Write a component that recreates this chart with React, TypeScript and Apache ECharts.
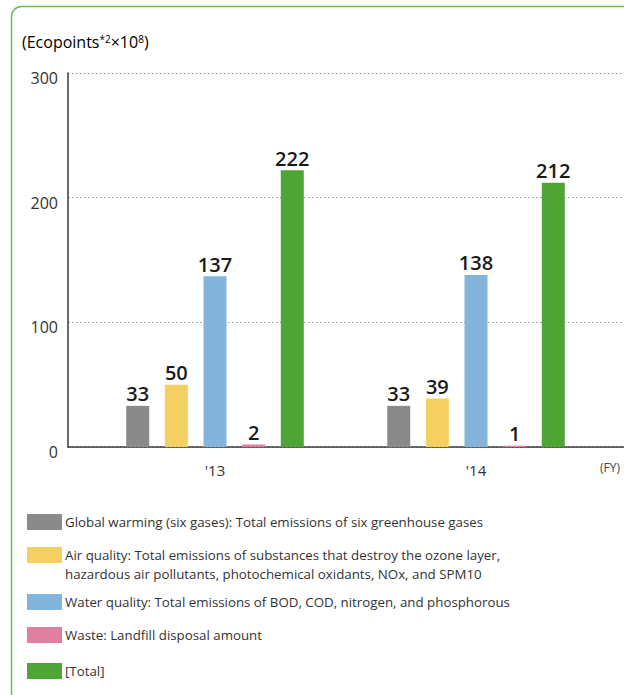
import React, { useEffect, useRef } from "react";
import * as echarts from "echarts";

const categories = ["'13", "'14"];
const seriesNames = ["Global warming", "Air quality", "Water quality", "Waste", "Total"];
const globalWarming = [33, 33];
const airQuality = [50, 39];
const waterQuality = [137, 138];
const waste = [2, 1];
const total = [222, 212];
const yTicks = [0, 100, 200, 300];
const legendLabels = [
  "Global warming (six gases): Total emissions of six greenhouse gases",
  "Air quality: Total emissions of substances that destroy the ozone layer,\nhazardous air pollutants, photochemical oxidants, NOx, and SPM10",
  "Water quality: Total emissions of BOD, COD, nitrogen, and phosphorous",
  "Waste: Landfill disposal amount",
  "[Total]",
];
const colors = ["#8a8a8a", "#f3d060", "#82b4dc", "#e07f9f", "#4ea535"];

const FONT = "'Open Sans', 'Noto Sans', sans-serif";

export default function App() {
  const ref = useRef<HTMLDivElement>(null);
  useEffect(() => {
    if (!ref.current) return;
    const chart = echarts.init(ref.current, undefined, { renderer: "svg" });
    const values = [globalWarming, airQuality, waterQuality, waste, total];
    const legendTops = [514, 547, 594, 627, 663];
    const legendGraphics: any[] = [];
    legendLabels.forEach((lab, i) => {
      legendGraphics.push({
        type: "rect",
        left: 27,
        top: legendTops[i],
        shape: { width: 35, height: 16 },
        style: { fill: colors[i] },
      });
      legendGraphics.push({
        type: "text",
        left: 65,
        top: legendTops[i] - 2,
        style: {
          text: lab,
          fill: "#333",
          font: `13.3px ${FONT}`,
          lineHeight: 19,
          textVerticalAlign: "top",
        },
      });
    });
    chart.setOption({
      animation: false,
      textStyle: { fontFamily: FONT },
      grid: [
        { left: 68, top: 73, width: 556, height: 374 },
        { left: 84.5, top: 73, width: 522, height: 374 },
      ],
      xAxis: [
        {
          gridIndex: 0,
          type: "value",
          min: 0,
          max: 1,
          axisLine: { show: true, lineStyle: { color: "#3a3a3a", width: 1.5 } },
          axisTick: { show: false },
          axisLabel: { show: false },
          splitLine: { show: false },
        },
        {
          gridIndex: 1,
          type: "category",
          data: categories,
          axisLine: { show: false },
          axisTick: { show: false },
          axisLabel: { color: "#333", fontSize: 15, margin: 15, fontFamily: FONT },
        },
      ],
      yAxis: [
        {
          gridIndex: 0,
          type: "value",
          min: yTicks[0],
          max: yTicks[yTicks.length - 1],
          interval: yTicks[1] - yTicks[0],
          axisLine: { show: true, lineStyle: { color: "#3a3a3a", width: 1.5 } },
          axisTick: { show: false },
          axisLabel: {
            color: "#333",
            fontSize: 16,
            margin: 10,
            verticalAlign: "top",
            lineHeight: 10,
            fontFamily: FONT,
          },
          splitLine: { show: true, lineStyle: { color: "#999", type: [1.5, 2.5], width: 1 } },
        },
        {
          gridIndex: 1,
          type: "value",
          min: yTicks[0],
          max: yTicks[yTicks.length - 1],
          show: false,
        },
      ],
      series: seriesNames.map((name, i) => ({
        name,
        type: "bar",
        xAxisIndex: 1,
        yAxisIndex: 1,
        data: values[i],
        barWidth: 23,
        barGap: "68%",
        itemStyle: { color: colors[i] },
        label: {
          show: true,
          position: "top",
          distance: 2,
          color: "#1a1a1a",
          fontSize: 20,
          fontWeight: 600,
          fontFamily: FONT,
        },
      })),
      graphic: [
        {
          type: "rect",
          left: 9,
          top: 4,
          shape: { width: 720, height: 760, r: 10 },
          style: { fill: "none", stroke: "#6cbb4b", lineWidth: 1.5 },
          silent: true,
        },
        {
          type: "text",
          left: 22,
          top: 31,
          style: {
            text: "{b|(Ecopoints}{s|*2}{b|×10}{s|8}{b|)}",
            rich: {
              b: { fontSize: 16, color: "#333", fontFamily: FONT, lineHeight: 22 },
              s: { fontSize: 10, color: "#333", fontFamily: FONT, verticalAlign: "top", lineHeight: 22, padding: [3, 0, 0, 0] },
            },
          },
        },
        {
          type: "text",
          left: 600,
          top: 461,
          style: { text: "(FY)", fill: "#444", font: `12px ${FONT}` },
        },
        ...legendGraphics,
      ],
    });
    return () => chart.dispose();
  }, []);
  return (
    <div
      ref={ref}
      style={{ position: "absolute", left: 0, top: 0, width: 624, height: 695, background: "#fff" }}
    />
  );
}
